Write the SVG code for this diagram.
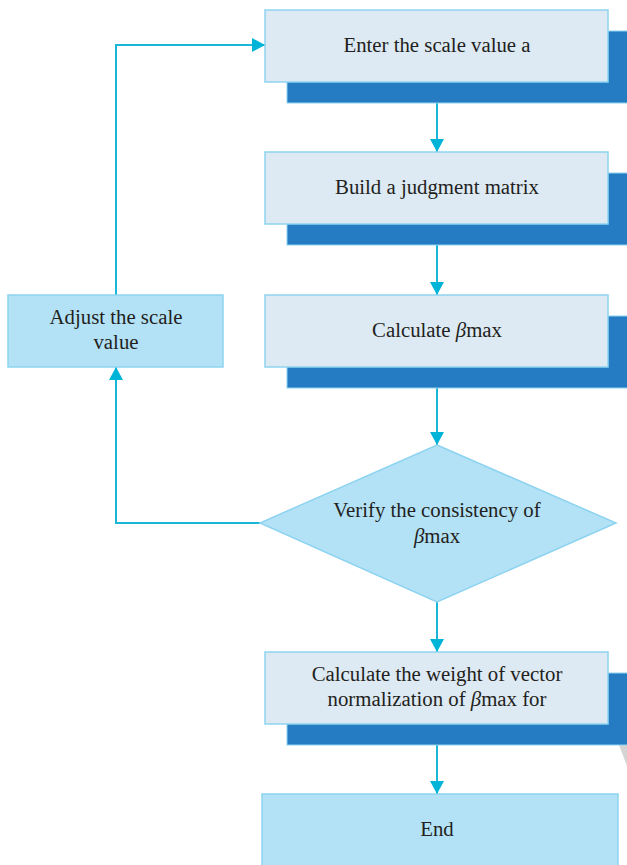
<svg xmlns="http://www.w3.org/2000/svg" width="627" height="865" viewBox="0 0 627 865">
<defs>
<style>
.box{fill:#dde9f3;stroke:#8dd3f0;stroke-width:1.5}
.lbox{fill:#b3e2f7;stroke:#8dd3f0;stroke-width:1.5}
.sh{fill:#267cc2;stroke:#8dd3f0;stroke-width:1}
.ln{fill:none;stroke:#1ab6d8;stroke-width:2}
text{font-family:"Liberation Serif","Times New Roman",serif;font-size:20.8px;fill:#231f20;text-anchor:middle}
</style>
<marker id="ah" markerWidth="14" markerHeight="14" refX="13" refY="7" orient="auto" markerUnits="userSpaceOnUse">
<path d="M0,0 L13,7 L0,14 Z" fill="#00b4d8"/>
</marker>
</defs>
<rect width="627" height="865" fill="#ffffff"/>
<polygon points="619,745 627,745 627,766" fill="#d4d4d4"/>
<g id="connectors">
<line class="ln" x1="437" y1="102" x2="437" y2="152" marker-end="url(#ah)"/>
<line class="ln" x1="437" y1="245" x2="437" y2="295" marker-end="url(#ah)"/>
<line class="ln" x1="437" y1="388" x2="437" y2="445" marker-end="url(#ah)"/>
<line class="ln" x1="437" y1="602" x2="437" y2="652" marker-end="url(#ah)"/>
<line class="ln" x1="437" y1="745" x2="437" y2="794" marker-end="url(#ah)"/>
<polyline class="ln" points="260,523 116,523 116,367" marker-end="url(#ah)"/>
<polyline class="ln" points="116,295 116,45 265,45" marker-end="url(#ah)"/>
</g>
<g id="n1">
<rect class="sh" x="287" y="31" width="345" height="72"/>
<rect class="box" x="265" y="10" width="343" height="72"/>
<text x="437" y="52">Enter the scale value a</text>
</g>
<g id="n2">
<rect class="sh" x="287" y="173" width="345" height="72"/>
<rect class="box" x="265" y="152" width="343" height="72"/>
<text x="437" y="194">Build a judgment matrix</text>
</g>
<g id="n3">
<rect class="sh" x="287" y="316" width="345" height="72"/>
<rect class="box" x="265" y="295" width="343" height="72"/>
<text x="437" y="337">Calculate <tspan font-style="italic">β</tspan>max</text>
</g>
<g id="n4">
<polygon points="437,445 616,523 437,602 260,523" fill="#b3e2f7" stroke="#8dd3f0" stroke-width="1.5"/>
<text x="437" y="517">Verify the consistency of</text>
<text x="437" y="543"><tspan font-style="italic">β</tspan>max</text>
</g>
<g id="n5">
<rect class="sh" x="287" y="673" width="345" height="72"/>
<rect class="box" x="265" y="652" width="343" height="72"/>
<text x="437" y="681">Calculate the weight of vector</text>
<text x="437" y="706">normalization of <tspan font-style="italic">β</tspan>max for</text>
</g>
<g id="n6">
<rect class="lbox" x="262" y="794" width="356" height="80"/>
<text x="437" y="836">End</text>
</g>
<g id="n7">
<rect class="lbox" x="8" y="295" width="215" height="72"/>
<text x="116" y="324">Adjust the scale</text>
<text x="116" y="349">value</text>
</g>
</svg>
